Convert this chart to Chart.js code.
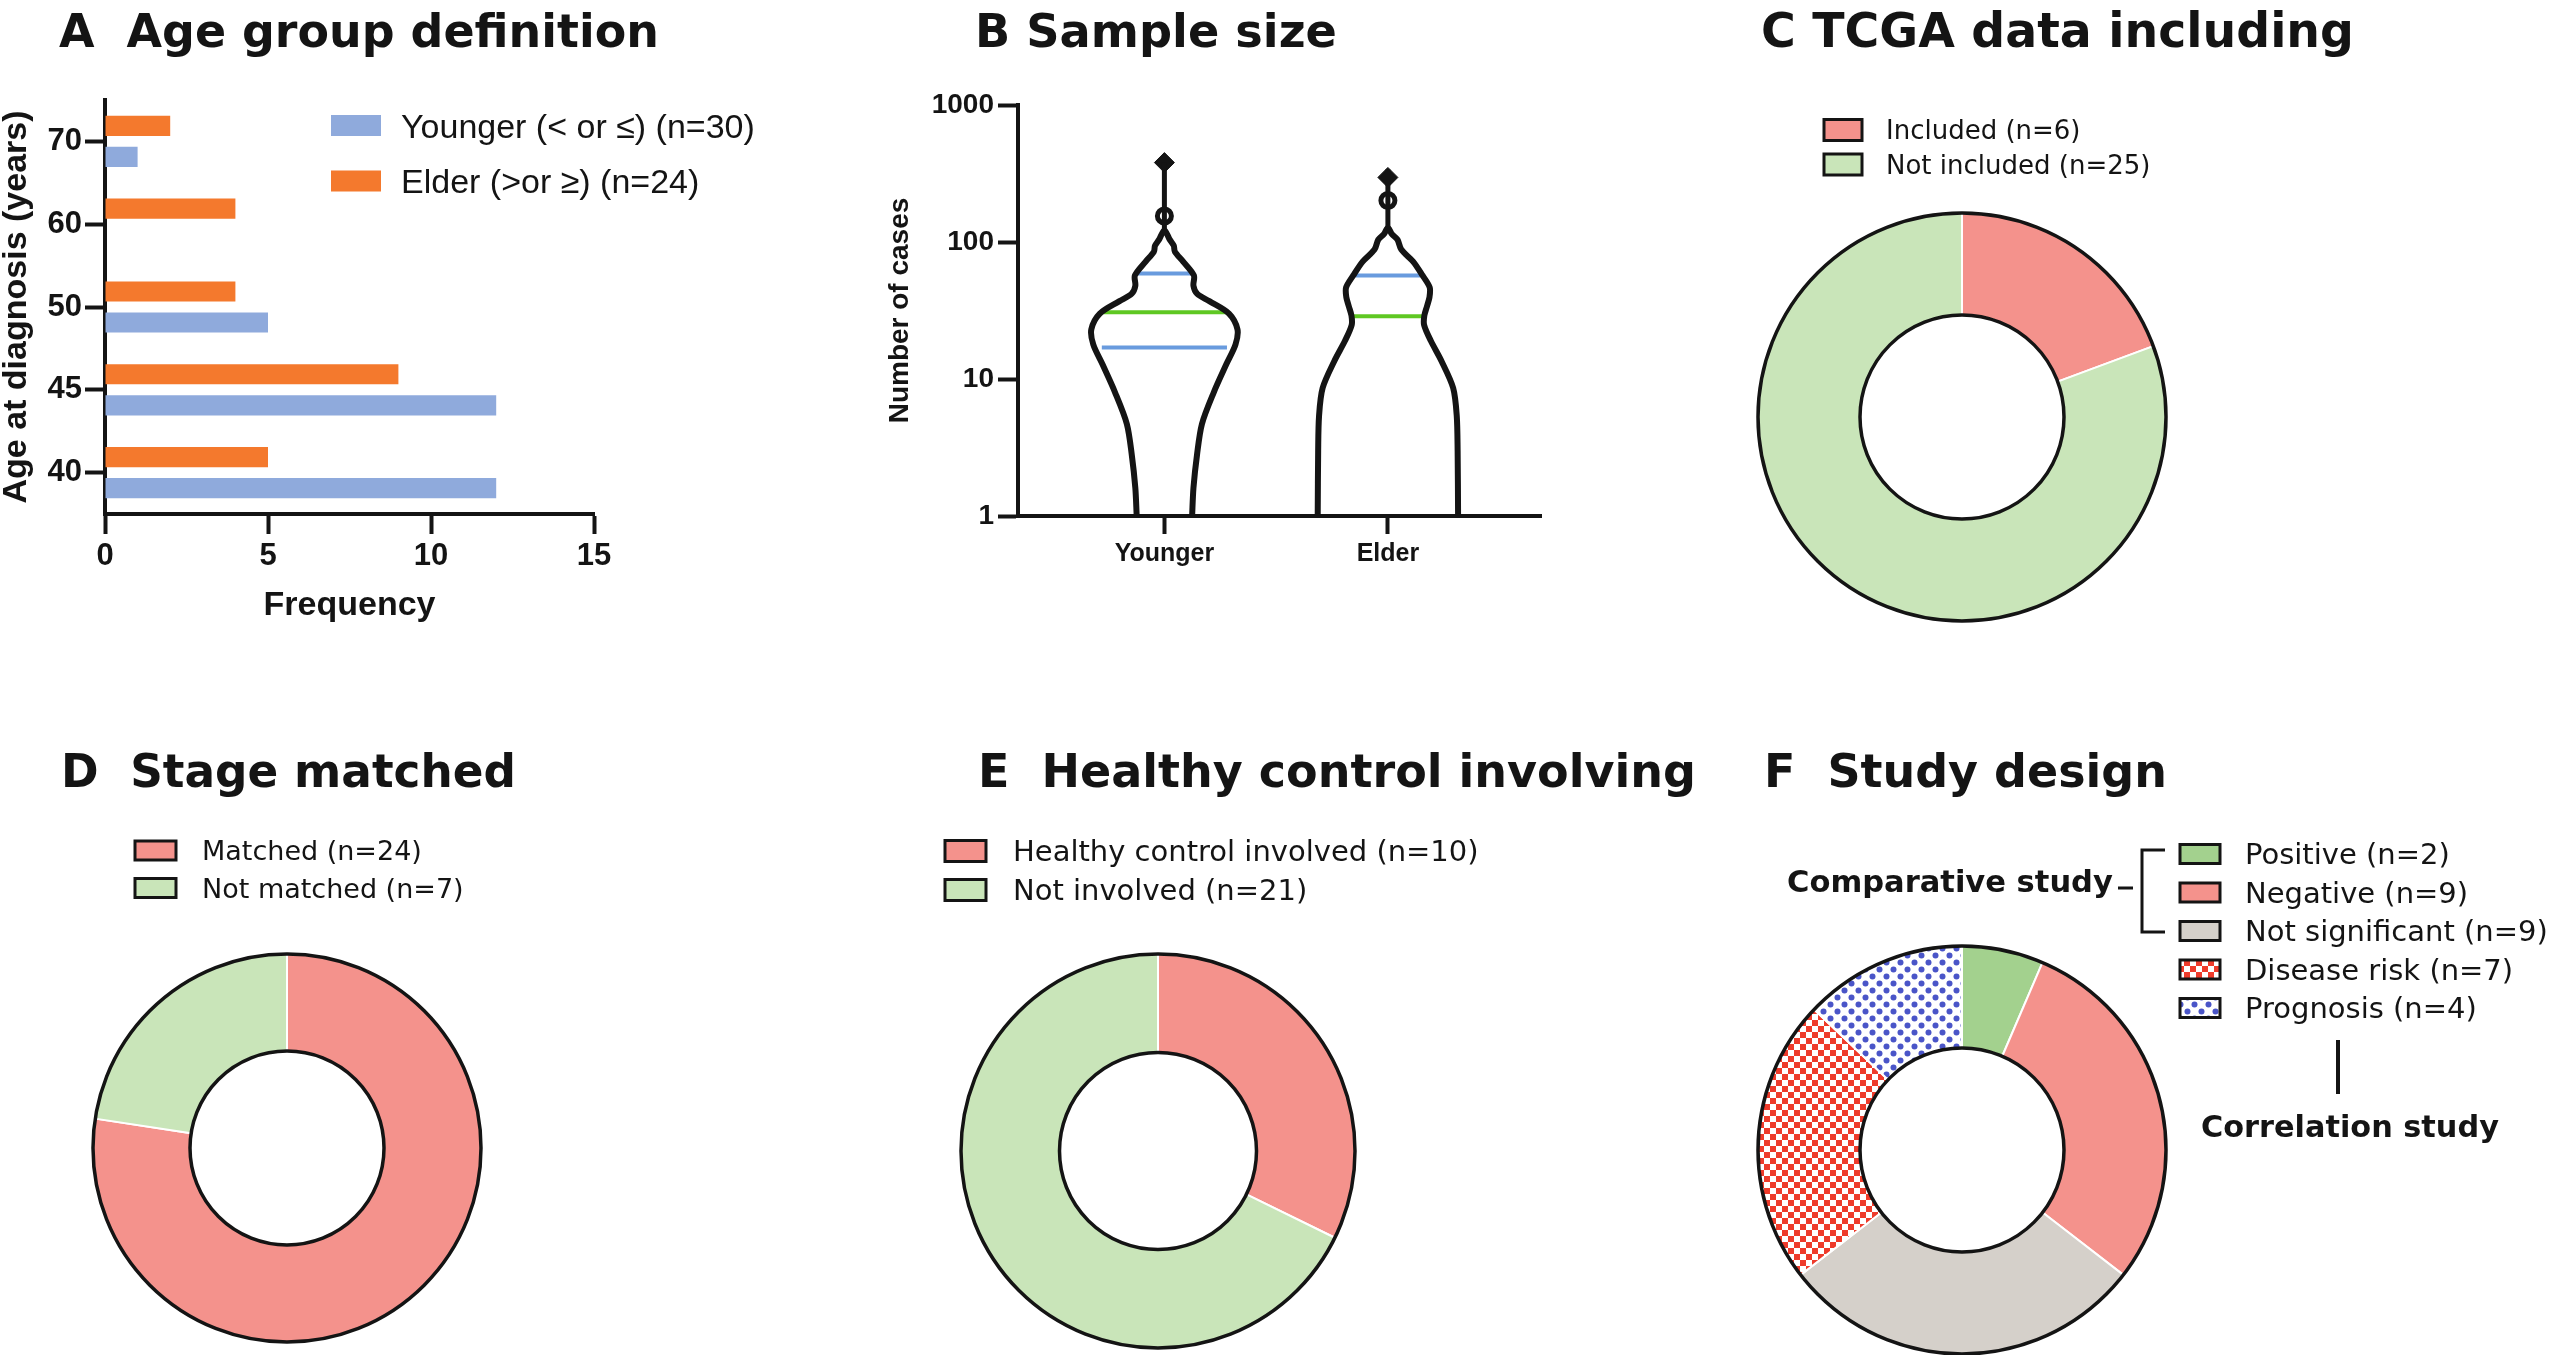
<!DOCTYPE html>
<html>
<head>
<meta charset="utf-8">
<script src="https://cdn.jsdelivr.net/npm/chart.js@4.4.1/dist/chart.umd.min.js"></script>
<style>
html,body{margin:0;padding:0;background:#fff;overflow:hidden;}
#wrap{position:relative;width:2550px;height:1355px;background:#fff;}
canvas{position:absolute;left:0;top:0;}
</style>
</head>
<body>
<div id="wrap">
<canvas id="cA" width="2550" height="1355"></canvas>
<canvas id="cB" width="2550" height="1355"></canvas>
<canvas id="cC" width="2550" height="1355"></canvas>
<canvas id="cD" width="2550" height="1355"></canvas>
<canvas id="cE" width="2550" height="1355"></canvas>
<canvas id="cF" width="2550" height="1355"></canvas>
</div>
<script>
// ---------------- DATA ----------------
// Panel A
const ageGroups = ['40', '45', '50', '60', '70'];
const youngerCounts = [12, 12, 5, 0, 1];
const elderCounts = [5, 9, 4, 4, 2];
const ageSeriesNames = ['Younger (< or ≤) (n=30)', 'Elder (>or ≥) (n=24)'];
const frequencyTicks = [0, 5, 10, 15];

// Panel B (violin outlines: case-number level, half width in category units)
const violinGroups = ['Younger', 'Elder'];
const caseTicks = [1, 10, 100, 1000];
const youngerLevels = [1, 1.6, 2.8, 4.7, 8, 12.8, 17.8, 23, 30, 37, 42, 48, 57, 72, 85, 94, 104, 122];
const youngerHalfWidth = [0.124, 0.130, 0.146, 0.168, 0.221, 0.277, 0.318, 0.327, 0.289, 0.201, 0.146, 0.130, 0.132, 0.084, 0.047, 0.042, 0.024, 0];
const elderLevels = [1, 3, 5.4, 8.6, 13.6, 19, 24.8, 29, 34, 39.5, 46.6, 57, 72, 88, 104, 114, 127];
const elderHalfWidth = [0.314, 0.312, 0.308, 0.292, 0.239, 0.192, 0.162, 0.163, 0.175, 0.186, 0.187, 0.155, 0.113, 0.060, 0.043, 0.018, 0];
const youngerTail = [122, 380];
const elderTail = [127, 338];
const youngerOpenPoints = [155];
const youngerFilledPoints = [380];
const elderOpenPoints = [201];
const elderFilledPoints = [296];
const youngerQuartiles = [17, 30.7, 59];          // Q1, median, Q3
const youngerQuartileHalf = [0.28, 0.277, 0.128];
const elderQuartiles = [28.7, 57];                // median, Q3
const elderQuartileHalf = [0.168, 0.146];

// Panel C
const tcgaLabels = ['Included (n=6)', 'Not included (n=25)'];
const tcgaCounts = [6, 25];
// Panel D
const stageLabels = ['Matched (n=24)', 'Not matched (n=7)'];
const stageCounts = [24, 7];
// Panel E
const controlLabels = ['Healthy control involved (n=10)', 'Not involved (n=21)'];
const controlCounts = [10, 21];
// Panel F
const designLabels = ['Positive (n=2)', 'Negative (n=9)', 'Not significant (n=9)', 'Disease risk (n=7)', 'Prognosis (n=4)'];
const designCounts = [2, 9, 9, 7, 4];

const panelTitles = ['A  Age group definition', 'B Sample size', 'C TCGA data including',
                     'D  Stage matched', 'E  Healthy control involving', 'F  Study design'];

// ---------------- STYLE ----------------
const INK = '#141414';
const ARIAL = '"Liberation Sans", Arial, Helvetica, sans-serif';
const WIDE = '"DejaVu Sans", Verdana, sans-serif';
const BLUE = 'rgb(143,170,220)';
const ORANGE = 'rgb(244,121,45)';
const PINK = '#F4928C';
const LGREEN = '#C9E5B9';
const PGREEN = '#A3D18E';
const GREY = '#D5D0CA';
const QBLUE = 'rgb(105,155,222)';
const QGREEN = 'rgb(95,200,35)';

Chart.defaults.devicePixelRatio = 1;
Chart.defaults.animation = false;
Chart.defaults.responsive = false;
Chart.defaults.plugins.legend.display = false;
Chart.defaults.plugins.tooltip.enabled = false;
Chart.defaults.color = INK;

function drawTitle(ctx, text, x, y, width) {
  ctx.save();
  ctx.font = 'bold 46px ' + WIDE;
  if (width) {
    const size = 46 * width / ctx.measureText(text).width;
    ctx.font = 'bold ' + size.toFixed(2) + 'px ' + WIDE;
  }
  ctx.fillStyle = INK;
  ctx.textAlign = 'left';
  ctx.textBaseline = 'alphabetic';
  ctx.fillText(text, x, y);
  ctx.restore();
}
function fitText(ctx, text, x, y, width, weight, family) {
  ctx.font = weight + ' 30px ' + family;
  const size = 30 * width / ctx.measureText(text).width;
  ctx.font = weight + ' ' + size.toFixed(2) + 'px ' + family;
  ctx.fillText(text, x, y);
}
function drawLegend(ctx, items, L) {
  ctx.save();
  ctx.font = (L.weight || '') + ' ' + L.size + 'px ' + L.family;
  ctx.textAlign = 'left';
  ctx.textBaseline = 'alphabetic';
  items.forEach((it, i) => {
    const cy = L.y0 + i * L.dy;
    ctx.fillStyle = it.fill;
    ctx.fillRect(L.sx, cy - L.sh / 2, L.sw, L.sh);
    if (L.stroke) {
      ctx.lineWidth = 3;
      ctx.strokeStyle = INK;
      ctx.strokeRect(L.sx, cy - L.sh / 2, L.sw, L.sh);
    }
    ctx.fillStyle = INK;
    ctx.fillText(it.text, L.tx, cy + 0.36 * L.size);
  });
  ctx.restore();
}

// ---------------- PANEL A ----------------
const tickFontA = {family: ARIAL, size: 31, weight: 'bold'};
new Chart(document.getElementById('cA'), {
  type: 'bar',
  data: {
    labels: ageGroups,
    datasets: [
      {label: ageSeriesNames[1], data: elderCounts, backgroundColor: ORANGE, categoryPercentage: 0.75, barPercentage: 0.65},
      {label: ageSeriesNames[0], data: youngerCounts, backgroundColor: BLUE, categoryPercentage: 0.75, barPercentage: 0.65}
    ]
  },
  options: {
    indexAxis: 'y',
    layout: {padding: {left: 0, top: 100, right: 2550 - 594, bottom: 1355 - 634}},
    scales: {
      y: {
        type: 'category', reverse: true, offset: true,
        grid: {drawOnChartArea: false, drawTicks: true, tickLength: 20, tickWidth: 4, tickColor: INK, offset: false},
        border: {display: true, color: INK, width: 4},
        ticks: {color: INK, font: tickFontA, padding: 3},
        title: {display: true, text: 'Age at diagnosis (years)', color: INK,
                font: {family: ARIAL, size: 34, weight: 'bold', lineHeight: 1}, padding: 0},
        afterFit: s => { s.width = 105; }
      },
      x: {
        type: 'linear', min: 0, max: 15,
        afterBuildTicks: s => { s.ticks = frequencyTicks.map(v => ({value: v})); },
        grid: {drawOnChartArea: false, drawTicks: true, tickLength: 20, tickWidth: 4, tickColor: INK},
        border: {display: true, color: INK, width: 4},
        ticks: {color: INK, font: tickFontA, padding: 4},
        title: {display: true, text: 'Frequency', color: INK,
                font: {family: ARIAL, size: 34, weight: 'bold', lineHeight: 1}, padding: {top: 0, bottom: 11}},
        afterFit: s => { s.height = 120; }
      }
    }
  },
  plugins: [{
    id: 'decoA',
    afterDraw(chart) {
      const ctx = chart.ctx;
      drawTitle(ctx, panelTitles[0], 59, 47, 600);
      const ds = chart.data.datasets.slice().reverse();
      drawLegend(ctx, ds.map(d => ({text: d.label, fill: d.backgroundColor})),
        {sx: 331, sw: 50, sh: 21, tx: 401, y0: 125.5, dy: 55.5, size: 34, family: ARIAL, stroke: false});
    }
  }]
});

// ---------------- PANEL B ----------------
function outline(levels, half, cx) {
  const left = levels.map((v, i) => ({x: cx - half[i], y: v}));
  const right = levels.slice(0, -1).map((v, i) => ({x: cx + half[i], y: v})).reverse();
  return left.concat(right);
}
function lineDs(data, color, width, tension) {
  return {data, showLine: true, borderColor: color, borderWidth: width, pointRadius: 0,
          tension: tension || 0, fill: false, backgroundColor: 'rgba(0,0,0,0)'};
}
function quartDs(levels, half, cx, colors) {
  return levels.map((q, i) => lineDs([{x: cx - half[i], y: q}, {x: cx + half[i], y: q}], colors[i], 4));
}
const bDatasets = [
  lineDs(outline(youngerLevels, youngerHalfWidth, 0), INK, 6, 0.3),
  lineDs(outline(elderLevels, elderHalfWidth, 1), INK, 6, 0.3),
  lineDs(youngerTail.map(v => ({x: 0, y: v})), INK, 5),
  lineDs(elderTail.map(v => ({x: 1, y: v})), INK, 5),
  {data: youngerFilledPoints.map(v => ({x: 0, y: v})).concat(elderFilledPoints.map(v => ({x: 1, y: v}))),
   pointStyle: 'rectRot', pointRadius: 10, backgroundColor: INK, borderColor: INK, borderWidth: 1},
  {data: youngerOpenPoints.map(v => ({x: 0, y: v})).concat(elderOpenPoints.map(v => ({x: 1, y: v}))),
   pointStyle: 'circle', pointRadius: 7, backgroundColor: '#fff', borderColor: INK, borderWidth: 5},
  ...quartDs(youngerQuartiles, youngerQuartileHalf, 0, [QBLUE, QGREEN, QBLUE]),
  ...quartDs(elderQuartiles, elderQuartileHalf, 1, [QGREEN, QBLUE])
];
new Chart(document.getElementById('cB'), {
  type: 'scatter',
  data: {datasets: bDatasets},
  options: {
    layout: {padding: {left: 886, top: 105, right: 2550 - 1541, bottom: 1355 - 596}},
    scales: {
      x: {
        type: 'linear', min: -0.655, max: 1.685,
        afterBuildTicks: s => { s.ticks = violinGroups.map((g, i) => ({value: i})); },
        ticks: {color: INK, font: {family: ARIAL, size: 25, weight: 'bold'}, padding: 5,
                callback: v => violinGroups[v]},
        grid: {drawOnChartArea: false, drawTicks: true, tickLength: 18, tickWidth: 4, tickColor: INK},
        border: {display: true, color: INK, width: 4},
        afterFit: s => { s.height = 80; }
      },
      y: {
        type: 'logarithmic', min: 1, max: 1000,
        afterBuildTicks: s => { s.ticks = caseTicks.map(v => ({value: v})); },
        ticks: {color: INK, font: {family: ARIAL, size: 28, weight: 'bold'}, padding: 4,
                callback: v => String(v)},
        grid: {drawOnChartArea: false, drawTicks: true, tickLength: 20, tickWidth: 4, tickColor: INK},
        border: {display: true, color: INK, width: 4},
        title: {display: true, text: 'Number of cases', color: INK,
                font: {family: ARIAL, size: 28, weight: 'bold', lineHeight: 1}, padding: 0},
        afterFit: s => { s.width = 132; }
      }
    }
  },
  plugins: [{
    id: 'decoB',
    afterDraw(chart) { drawTitle(chart.ctx, panelTitles[1], 975, 47, 362); }
  }]
});

// ---------------- DOUGHNUTS ----------------
function makePattern(kind, color) {
  const c = document.createElement('canvas');
  const g = c.getContext('2d');
  if (kind === 'check') {
    c.width = c.height = 12;
    g.fillStyle = '#fff'; g.fillRect(0, 0, 12, 12);
    g.fillStyle = color; g.fillRect(0, 0, 6, 6); g.fillRect(6, 6, 6, 6);
  } else {
    c.width = c.height = 14;
    g.fillStyle = '#fff'; g.fillRect(0, 0, 14, 14);
    g.fillStyle = color;
    g.beginPath(); g.arc(3.5, 3.5, 3, 0, Math.PI * 2); g.fill();
    g.beginPath(); g.arc(10.5, 10.5, 3, 0, Math.PI * 2); g.fill();
  }
  return g.createPattern(c, 'repeat');
}
const ringPlugin = {
  id: 'ring',
  afterDatasetsDraw(chart) {
    const arc = chart.getDatasetMeta(0).data[0];
    if (!arc) return;
    const p = arc.getProps(['x', 'y', 'outerRadius', 'innerRadius'], true);
    const ctx = chart.ctx;
    ctx.save();
    ctx.strokeStyle = INK;
    ctx.lineWidth = 3.5;
    ctx.beginPath(); ctx.arc(p.x, p.y, p.outerRadius, 0, Math.PI * 2); ctx.stroke();
    ctx.beginPath(); ctx.arc(p.x, p.y, p.innerRadius, 0, Math.PI * 2); ctx.stroke();
    ctx.restore();
  }
};
function donut(id, labels, counts, colors, cx, cy, r, deco) {
  return new Chart(document.getElementById(id), {
    type: 'doughnut',
    data: {labels, datasets: [{data: counts, backgroundColor: colors, borderColor: '#ffffff',
                                borderWidth: 2, hoverOffset: 0, hoverBorderWidth: 0}]},
    options: {
      cutout: '50%',
      layout: {padding: {left: cx - r - 1, top: cy - r - 1, right: 2550 - (cx + r + 1), bottom: 1355 - (cy + r + 1)}}
    },
    plugins: [ringPlugin, {id: 'deco' + id, afterDraw: deco}]
  });
}
function legendItems(chart) {
  const ds = chart.data.datasets[0];
  return chart.data.labels.map((t, i) => ({text: t, fill: ds.backgroundColor[i]}));
}

donut('cC', tcgaLabels, tcgaCounts, [PINK, LGREEN], 1962, 417, 204, chart => {
  drawTitle(chart.ctx, panelTitles[2], 1761, 47, 593);
  drawLegend(chart.ctx, legendItems(chart),
    {sx: 1824, sw: 38, sh: 21, tx: 1886, y0: 130, dy: 34.5, size: 26, family: WIDE, stroke: true});
});
donut('cD', stageLabels, stageCounts, [PINK, LGREEN], 287, 1148, 194, chart => {
  drawTitle(chart.ctx, panelTitles[3], 61, 787, 455);
  drawLegend(chart.ctx, legendItems(chart),
    {sx: 135, sw: 41, sh: 19, tx: 202, y0: 850.5, dy: 37.5, size: 27, family: WIDE, stroke: true});
});
donut('cE', controlLabels, controlCounts, [PINK, LGREEN], 1158, 1151, 197, chart => {
  drawTitle(chart.ctx, panelTitles[4], 978, 787, 718);
  drawLegend(chart.ctx, legendItems(chart),
    {sx: 945, sw: 41, sh: 21, tx: 1013, y0: 851, dy: 39, size: 29, family: WIDE, stroke: true});
});
const riskPattern = makePattern('check', '#EE3B2B');
const progPattern = makePattern('dots', '#4A55C8');
donut('cF', designLabels, designCounts, [PGREEN, PINK, GREY, riskPattern, progPattern], 1962, 1150, 204, chart => {
  const ctx = chart.ctx;
  drawTitle(ctx, panelTitles[5], 1764, 787, 403);
  drawLegend(ctx, legendItems(chart),
    {sx: 2180, sw: 40, sh: 19, tx: 2245, y0: 854, dy: 38.5, size: 29, family: WIDE, stroke: true});
  ctx.save();
  ctx.fillStyle = INK;
  ctx.textAlign = 'left';
  ctx.textBaseline = 'alphabetic';
  fitText(ctx, 'Comparative study', 1787, 892, 326, 'bold', WIDE);
  fitText(ctx, 'Correlation study', 2201, 1137, 298, 'bold', WIDE);
  ctx.strokeStyle = INK;
  ctx.lineWidth = 3;
  ctx.beginPath();
  ctx.moveTo(2118, 888); ctx.lineTo(2133, 888);
  ctx.moveTo(2165, 850); ctx.lineTo(2142, 850); ctx.lineTo(2142, 932); ctx.lineTo(2165, 932);
  ctx.stroke();
  ctx.lineWidth = 4;
  ctx.beginPath(); ctx.moveTo(2338, 1040); ctx.lineTo(2338, 1094); ctx.stroke();
  ctx.restore();
});
</script>
</body>
</html>
